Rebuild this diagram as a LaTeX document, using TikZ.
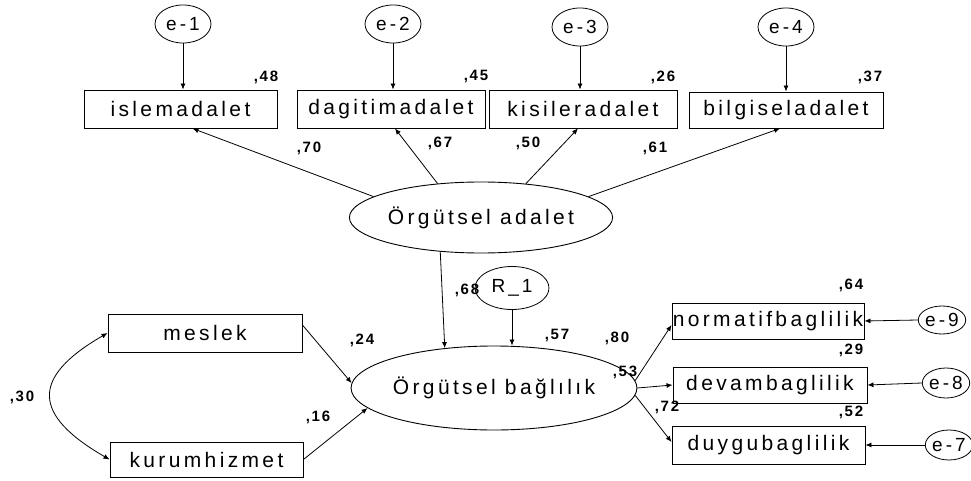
\documentclass[tikz,border=0pt]{standalone}
\usepackage{fontspec}
\setmainfont{Liberation Sans}
\newfontfamily\lblfont[LetterSpace=16]{Liberation Sans}
\newfontfamily\numfont[LetterSpace=12]{Liberation Sans}
\usetikzlibrary{shapes.geometric,arrows.meta}
\tikzset{
  obs/.style={draw, rectangle, inner sep=0pt, line width=0.9pt, font=\lblfont\fontsize{21}{21}\selectfont},
  lat/.style={draw, ellipse, inner sep=0pt, line width=0.9pt, font=\lblfont\fontsize{21}{21}\selectfont},
  err/.style={draw, ellipse, inner sep=0pt, line width=0.8pt, font=\lblfont\fontsize{19}{19}\selectfont},
  num/.style={inner sep=0pt, font=\numfont\bfseries\fontsize{15}{15}\selectfont},
  arr/.style={-{Latex[length=6pt,width=5pt]}, line width=0.8pt},
  dblarr/.style={{Latex[length=6pt,width=5pt]}-{Latex[length=6pt,width=5pt]}, line width=0.8pt}
}
\begin{document}
\begin{tikzpicture}[x=1pt,y=-1pt]
\path[use as bounding box, clip] (0,0) rectangle (971,481);
\fill[white] (0,0) rectangle (971,481);
% error terms top
\node[err, minimum width=56, minimum height=38] (e1) at (183,24) {e-1};
\node[err, minimum width=56, minimum height=38] (e2) at (393,24) {e-2};
\node[err, minimum width=56, minimum height=38] (e3) at (580,27) {e-3};
\node[err, minimum width=56, minimum height=38] (e4) at (786,27) {e-4};
% top boxes
\node[obs, minimum width=193, minimum height=38] (b1) at (180.5,109) {islemadalet};
\node[obs, minimum width=188, minimum height=38] (b2) at (391,109) {dagitimadalet};
\node[obs, minimum width=188, minimum height=38] (b3) at (583,109) {kisileradalet};
\node[obs, minimum width=194, minimum height=36] (b4) at (786,110) {bilgiseladalet};
% latent
\node[lat, minimum width=202, minimum height=71] (adalet) at (481,217.5) {Örgütsel adalet};
\node[err, minimum width=74, minimum height=43] (R1) at (512,288) {R\_1};
\node[lat, minimum width=238, minimum height=84] (bag) at (494,388) {Örgütsel bağlılık};
% left boxes
\node[obs, minimum width=194, minimum height=38] (meslek) at (205,333) {meslek};
\node[obs, minimum width=193, minimum height=35] (kurum) at (206.5,459.5) {kurumhizmet};
% right boxes
\node[obs, minimum width=192, minimum height=36] (norm) at (768,321) {normatifbaglilik};
\node[obs, minimum width=194, minimum height=36] (devam) at (770,385) {devambaglilik};
\node[obs, minimum width=193, minimum height=38] (duygu) at (768.5,445) {duygubaglilik};
\node[err, minimum width=46, minimum height=28] (e9) at (942,320) {e-9};
\node[err, minimum width=44, minimum height=30] (e8) at (946,383) {e-8};
\node[err, minimum width=44, minimum height=30] (e7) at (949,445) {e-7};
% labels
\node[num] (l48) at (266,77) {,48};
\node[num] (l45) at (476,77) {,45};
\node[num] (l26) at (663,77) {,26};
\node[num] (l37) at (870,77) {,37};
\node[num] (l70) at (309,148) {,70};
\node[num] (l67) at (440,143) {,67};
\node[num] (l50) at (528,143) {,50};
\node[num] (l61) at (655,148) {,61};
\node[num] (l68) at (467,290) {,68};
\node[num] (l57) at (557,335) {,57};
\node[num] (l80) at (617,338) {,80};
\node[num] (l53) at (625,372) {,53};
\node[num] (l24) at (362,340) {,24};
\node[num] (l16) at (318,417) {,16};
\node[num] (l30) at (22,397) {,30};
\node[num] (l64) at (851,285) {,64};
\node[num] (l29) at (851,350) {,29};
\node[num] (l52) at (851,412) {,52};
\node[num] (l72) at (667,407) {,72};
% connectors
\draw[arr] (e1.south) -- (e1.south |- b1.north);
\draw[arr] (e2.south) -- (e2.south |- b2.north);
\draw[arr] (e3.south) -- (e3.south |- b3.north);
\draw[arr] (e4.south) -- (e4.south |- b4.north);
\draw[arr] (adalet.169) -- ([xshift=12pt]b1.south);
\draw[arr] (adalet.142) -- ([xshift=4pt]b2.south);
\draw[arr] (adalet.37) -- ([xshift=-5pt]b3.south);
\draw[arr] (adalet.11) -- ([xshift=-6pt]b4.south);
\draw[arr] (adalet.220) -- (bag.141);
\draw[arr] (R1.south) -- (R1.south |- bag.north);
\draw[arr] ([yshift=8pt]meslek.east) -- (bag.178);
\draw[arr] (kurum.east) -- (bag.189);
\draw[arr] (bag.3) -- ([yshift=-4pt]norm.west);
\draw[arr] (bag.east) -- (devam.west);
\draw[arr] (bag.357) -- ([yshift=3pt]duygu.west);
\draw[arr] (e9.west) -- (norm.east);
\draw[arr] (e8.west) -- (devam.east);
\draw[arr] (e7.west) -- (duygu.east);
\draw[dblarr] (meslek.west) to[out=210,in=150,looseness=1.8] (kurum.west);
\end{tikzpicture}
\end{document}
